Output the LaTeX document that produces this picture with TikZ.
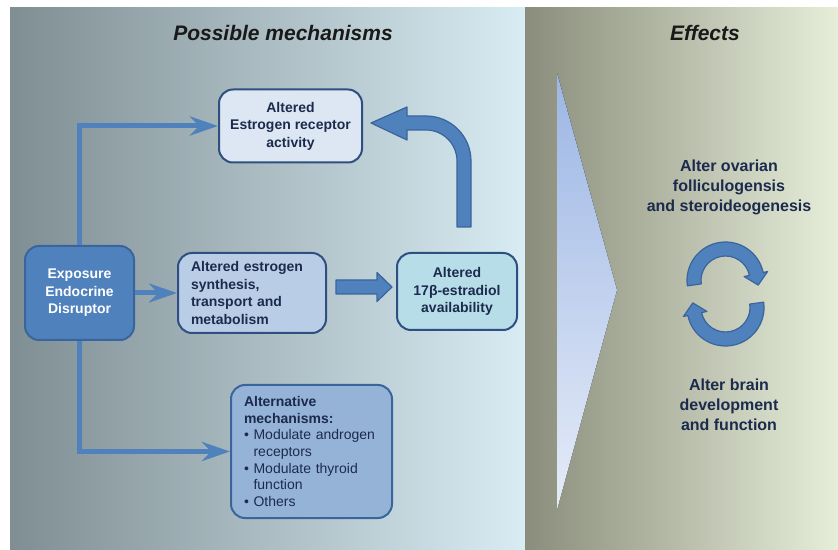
\documentclass[tikz,border=0pt]{standalone}
\usepackage{fontspec}
\setmainfont{Liberation Sans}
\usetikzlibrary{arrows.meta,calc}

\definecolor{arrowblue}{HTML}{4F81BD}
\definecolor{arrowline}{HTML}{3A659C}
\definecolor{navy}{HTML}{1C2B4D}
\definecolor{boxline}{HTML}{2F4F80}
\definecolor{leftgray}{HTML}{7F8E93}
\definecolor{leftblue}{HTML}{D8ECF3}
\definecolor{rightgray}{HTML}{8A8D7B}
\definecolor{rightcream}{HTML}{E6EEDA}
\definecolor{chevtop}{HTML}{9CB6E4}
\definecolor{chevbot}{HTML}{E6ECF8}
\definecolor{synthfill}{HTML}{B9CDE6}
\definecolor{estrafill}{HTML}{B6DDE8}
\definecolor{recfill}{HTML}{DDE7F3}
\definecolor{altfill}{HTML}{95B3D7}

\tikzset{
  paneltitle/.style={font=\fontsize{21}{25}\selectfont\bfseries\itshape, text=black!90},
  mechbox/.style={draw=boxline, line width=2pt, rounded corners=14pt, text=navy,
    font=\fontsize{14}{17.5}\selectfont\bfseries, inner sep=0pt, align=center},
  effecttext/.style={text=navy, font=\fontsize{16}{20}\selectfont\bfseries, align=center},
  thinarrow/.style={draw=arrowblue, line width=5pt, -{Stealth[length=28pt,width=19pt,inset=9pt]}},
  blockarrow/.style={fill=arrowblue, draw=arrowline, line width=1.2pt, line join=round},
}

\begin{document}
\begin{tikzpicture}[x=1pt,y=1pt]
    \useasboundingbox (0,0) rectangle (838,549);
    \fill[white] (0,0) rectangle (838,549);

    % panels
    \fill[left color=leftgray, right color=leftblue] (10,0) rectangle (525,541);
    \fill[left color=rightgray, right color=rightcream] (525,0) rectangle (838,541);
    \fill[top color=chevtop, bottom color=chevbot] (557,476) -- (617,259) -- (557,39) -- cycle;

    \node[paneltitle] (mechtitle) at (283,516) {Possible mechanisms};
    \node[paneltitle] (efftitle) at (705,516) {Effects};

    % boxes
    \node[mechbox, fill=arrowblue, draw=arrowline, text=white,
          minimum width=109pt, minimum height=94pt] (exposure) at (79.5,256)
          {Exposure\\Endocrine\\Disruptor};
    \node[mechbox, fill=synthfill, text width=122pt, inner xsep=13pt, align=left,
          minimum height=80pt] (synthesis) at (252,256)
          {Altered estrogen\\synthesis,\\transport and\\metabolism};
    \node[mechbox, fill=estrafill, minimum width=120pt, minimum height=77pt] (estradiol) at (457,257.5)
          {Altered\\17β-estradiol\\availability};
    \node[mechbox, fill=recfill, minimum width=143pt, minimum height=73pt] (receptor) at (290.5,423)
          {Altered\\Estrogen receptor\\activity};
    \node[mechbox, fill=altfill, draw=arrowline, text width=135pt, inner xsep=13pt, align=left,
          minimum height=133pt, font=\fontsize{14}{16.7}\selectfont] (alternative) at (311.5,97.5)
          {\textbf{Alternative}\\\textbf{mechanisms:}\\• Modulate androgen\\\phantom{•}\ receptors\\• Modulate thyroid\\\phantom{•}\ function\\• Others};

    % connectors
    \draw[thinarrow] (exposure.north) |- (receptor.west);
    \draw[thinarrow] (exposure.south) |- (alternative.west);
    \draw[thinarrow] (exposure.east) -- (synthesis.west);

    \draw[blockarrow] (336,269) -- (377,269) -- (377,276.5) -- (392,262)
        -- (377,247.5) -- (377,255) -- (336,255) -- cycle;
    \draw[blockarrow] (371,426) -- (407,442) -- (407,433) -- (426,433)
        arc[start angle=90, end angle=0, radius=45] -- (471,322) -- (457,322)
        -- (457,388) arc[start angle=0, end angle=90, radius=31] -- (407,419)
        -- (407,409) -- cycle;

    % effects
    \node[effecttext] (ovarian) at (729,362) {Alter ovarian\\folliculogensis\\and steroideogenesis};
    \node[effecttext] (brain) at (729,144) {Alter brain\\development\\and function};

    \coordinate (c1) at (725.5,268.5);
    \coordinate (c2) at (725.5,241.5);
    \draw[blockarrow] ($(c1)+(188:38.5)$) arc[start angle=188, end angle=12, radius=38.5]
        -- ($(c1)+(12:43)$) -- ($(c1)+(-8:33)$) -- ($(c1)+(12:19)$) -- ($(c1)+(12:24.5)$)
        arc[start angle=12, end angle=188, radius=24.5] -- cycle;
    \draw[blockarrow] ($(c2)+(8:38.5)$) arc[start angle=8, end angle=-168, radius=38.5]
        -- ($(c2)+(-168:43)$) -- ($(c2)+(172:33)$) -- ($(c2)+(-168:19)$) -- ($(c2)+(-168:24.5)$)
        arc[start angle=-168, end angle=8, radius=24.5] -- cycle;
\end{tikzpicture}
\end{document}
